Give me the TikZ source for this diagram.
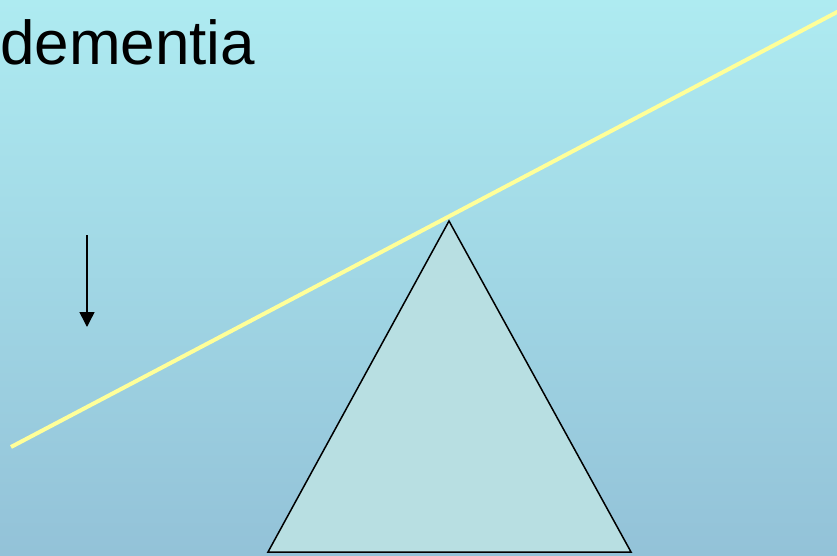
\documentclass[tikz,border=0pt]{standalone}
\usepackage{fontspec}
\setmainfont{Liberation Sans}
\usetikzlibrary{arrows.meta}
\definecolor{bgtop}{HTML}{AEEBF1}
\definecolor{bgbot}{HTML}{93C2D8}
\definecolor{trifill}{HTML}{B8DFE2}
\definecolor{beam}{HTML}{FFFF99}
\tikzset{
  lever/.style={draw=beam, line width=4pt},
  fulcrum/.style={draw=black, line width=1.5pt, fill=trifill, line join=miter},
  force/.style={draw=black, line width=1.5pt, -{Triangle[width=15pt,length=15pt]}},
  title/.style={font=\fontsize{62}{70}\selectfont, inner sep=0pt, anchor=base west}
}
\begin{document}
\begin{tikzpicture}[x=1pt,y=-1pt]
\shade[top color=bgtop, bottom color=bgbot] (0,0) rectangle (837,556);
\useasboundingbox (0,0) rectangle (837,556);
\node[title] (t) at (0,65) {dementia};
\coordinate (apex) at (449,221);
\coordinate (bl) at (268,552);
\coordinate (br) at (631,552);
\path[fulcrum] (apex) -- (br) -- (bl) -- cycle;
\coordinate (l1) at (11,447);
\coordinate (l2) at (840,10.5);
\draw[lever] (l1) -- (l2);
\coordinate (a1) at (87,235);
\coordinate (a2) at (87,327);
\draw[force] (a1) -- (a2);
\end{tikzpicture}
\end{document}
